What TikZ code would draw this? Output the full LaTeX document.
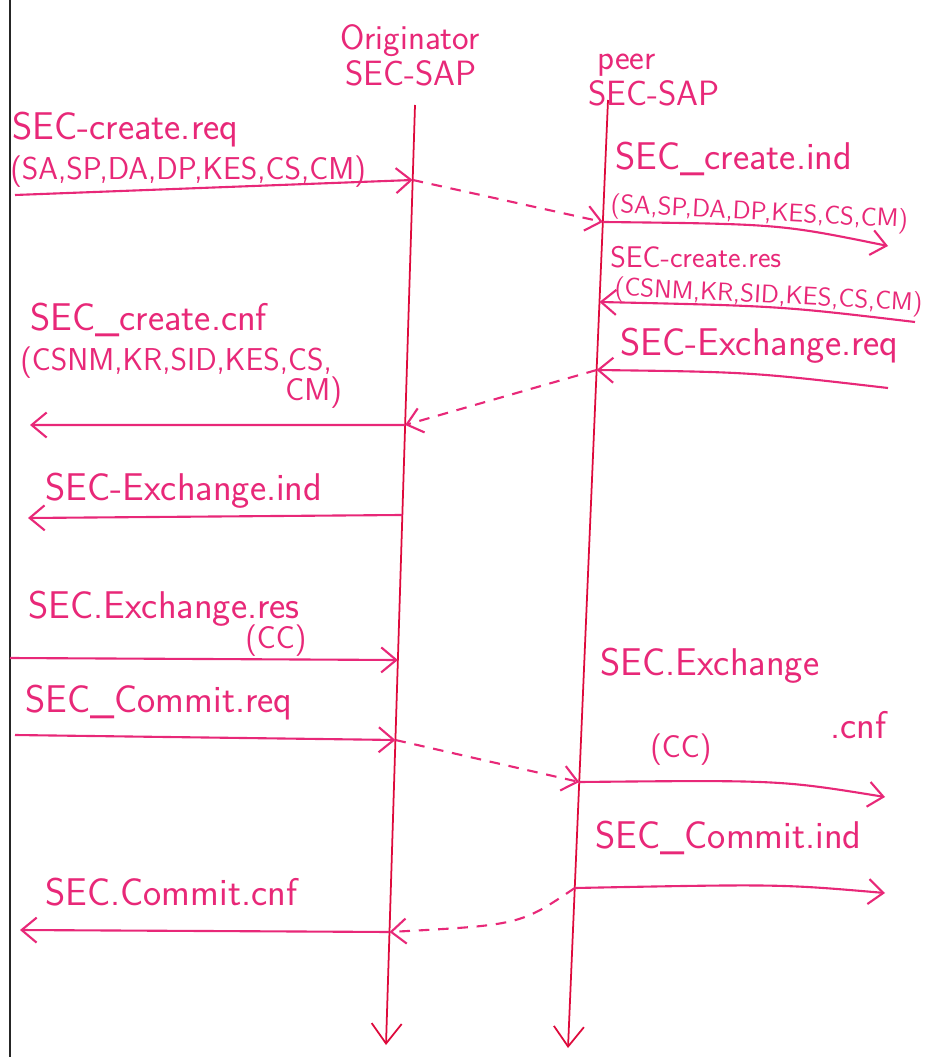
\documentclass[tikz,border=0pt]{standalone}
\usetikzlibrary{arrows.meta,calc}
\definecolor{ink}{RGB}{232,40,120}
\definecolor{lifered}{RGB}{222,10,60}
\tikzset{
  msg/.style={text=ink,font=\sffamily\fontsize{22}{26}\selectfont,anchor=base west,inner sep=0pt},
  args/.style={msg,font=\sffamily\fontsize{18}{22}\selectfont},
  small/.style={msg,font=\sffamily\fontsize{14.5}{18}\selectfont},
  head/.style={msg,font=\sffamily\fontsize{20}{24}\selectfont},
  call/.style={ink,line width=1.2pt,-{Straight Barb[length=3mm,width=5mm]}},
  pass/.style={call,dash pattern=on 6pt off 5pt},
  life/.style={lifered,line width=1pt,-{Straight Barb[length=4mm,width=6mm]}}
}

\begin{document}
\begin{tikzpicture}[x=0.02cm,y=-0.02cm]
    \useasboundingbox (0,0) rectangle (929,1057);
    \fill[white] (0,0) rectangle (929,1057);
    \draw[black!85,line width=1.5pt] (10,0) -- (10,1057);

    % lifelines
    \coordinate (otop) at (415,105);
    \coordinate (obot) at (386,1045);
    \coordinate (ptop) at (608,100);
    \coordinate (pbot) at (568,1048);
    \draw[life] (otop) -- (obot);
    \draw[life] (ptop) -- (pbot);

    \node[head] (orghd) at (340,50) {Originator};
    \node[head] (orgsap) at (345,86) {SEC-SAP};
    \node[head] (peerhd) at (597,70) {peer};
    \node[head] (peersap) at (588,106) {SEC-SAP};

    \foreach \n/\y in {1/180,2/425,3/515,4/660,5/740,6/932}
      \coordinate (o\n) at ($(otop)!{(\y-105)/940}!(obot)$);
    \foreach \n/\y in {1/222,2/302,3/370,4/782,5/888}
      \coordinate (p\n) at ($(ptop)!{(\y-100)/948}!(pbot)$);

    % free ends
    \coordinate (a1) at (15,195);
    \coordinate (a2) at (30,425);
    \coordinate (a3) at (28,518);
    \coordinate (a4) at (10,658);
    \coordinate (a5) at (15,735);
    \coordinate (a6) at (20,930);
    \coordinate (b1) at (888,246);
    \coordinate (b2) at (915,322);
    \coordinate (b3) at (888,388);
    \coordinate (b4) at (885,797);
    \coordinate (b5) at (885,893);

    % create
    \node[msg] (crreq) at (12,140) {SEC-create.req};
    \node[args] (crreqp) at (10,180) {(SA,SP,DA,DP,KES,CS,CM)};
    \draw[call] (a1) -- (o1);
    \draw[pass] (o1) -- (p1);
    \node[msg] (crind) at (615,170) {SEC\_create.ind};
    \node[small,rotate=-3] (crindp) at (610,212) {(SA,SP,DA,DP,KES,CS,CM)};
    \draw[call] (p1) .. controls (780,224) .. (b1);
    \node[msg,font=\sffamily\fontsize{17}{20}\selectfont] (crres) at (610,268) {SEC-create.res};
    \node[small,rotate=-3] (crresp) at (614,295) {(CSNM,KR,SID,KES,CS,CM)};
    \draw[call] (b2) .. controls (780,306) .. (p2);

    % exchange
    \node[msg] (exreq) at (620,355) {SEC-Exchange.req};
    \draw[call] (b3) .. controls (750,372) .. (p3);
    \draw[pass] (p3) -- (o2);
    \node[msg] (crcnf) at (30,330) {SEC\_create.cnf};
    \node[args] (crcnfp) at (20,370) {(CSNM,KR,SID,KES,CS,};
    \node[args] (crcnfq) at (285,400) {CM)};
    \draw[call] (o2) -- (a2);
    \node[msg] (exind) at (45,500) {SEC-Exchange.ind};
    \draw[call] (o3) -- (a3);
    \node[msg] (exres) at (28,618) {SEC.Exchange.res};
    \node[args] (exresp) at (245,648) {(CC)};
    \draw[call] (a4) -- (o4);
    \node[msg] (excnf) at (600,675) {SEC.Exchange};
    \node[msg] (excnfq) at (830,738) {.cnf};
    \node[args] (excnfp) at (650,757) {(CC)};

    % commit
    \node[msg] (cmreq) at (25,712) {SEC\_Commit.req};
    \draw[call] (a5) -- (o5);
    \draw[pass] (o5) -- (p4);
    \draw[call] (p4) .. controls (780,780) .. (b4);
    \node[msg] (cmind) at (595,848) {SEC\_Commit.ind};
    \draw[call] (p5) .. controls (780,884) .. (b5);
    \draw[pass] (p5) .. controls (520,925) .. (o6);
    \node[msg] (cmcnf) at (45,905) {SEC.Commit.cnf};
    \draw[call] (o6) -- (a6);
\end{tikzpicture}
\end{document}
